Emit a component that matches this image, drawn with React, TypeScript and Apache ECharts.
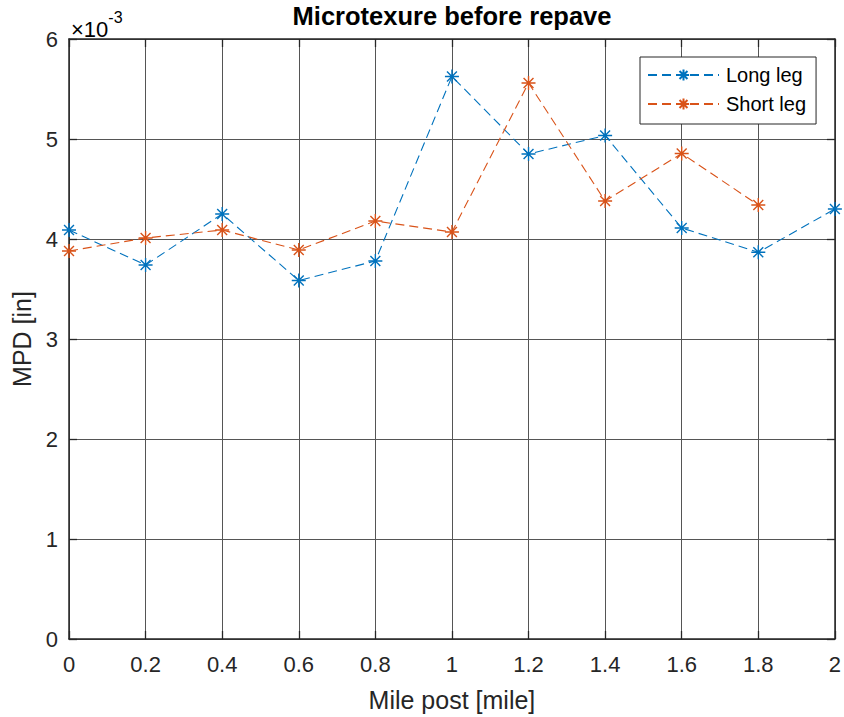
import React, { useEffect, useRef } from "react";
import * as echarts from "echarts";

// Mile post positions [mile]
const milePosts = [0, 0.2, 0.4, 0.6, 0.8, 1.0, 1.2, 1.4, 1.6, 1.8, 2.0];
// MPD values in units of 1e-3 in
const longLeg = [4.09, 3.74, 4.25, 3.585, 3.78, 5.625, 4.85, 5.035, 4.11, 3.867, 4.3];
const shortLeg = [3.88, 4.01, 4.09, 3.89, 4.18, 4.07, 5.56, 4.38, 4.855, 4.34];
const seriesNames = ["Long leg", "Short leg"];
const colors = ["#0072BD", "#D95319"];
const titleText = "Microtexure before repave";
const xName = "Mile post [mile]";
const yName = "MPD [in]";

const FONT = "'Liberation Sans', Arial, Helvetica, sans-serif";
const STAR = "path://M0,-10L0,10M-10,0L10,0M-7.07,-7.07L7.07,7.07M-7.07,7.07L7.07,-7.07";

export default function App() {
  const ref = useRef<HTMLDivElement>(null);
  useEffect(() => {
    if (!ref.current) return;
    const chart = echarts.init(ref.current, undefined, { renderer: "svg" });
    const mk = (name: string, vals: number[], color: string) => ({
      name,
      type: "line",
      data: vals.map((v, i) => [milePosts[i], v]),
      symbol: STAR,
      symbolSize: 14,
      showSymbol: true,
      color,
      lineStyle: { color, width: 1.1, type: [9, 5] },
      itemStyle: { color, borderColor: color, borderWidth: 1.4 },
      emphasis: { disabled: true },
      z: 5,
    });
    const frame = { show: true, onZero: false, lineStyle: { color: "#262626", width: 1.5 } };
    const tick = { show: true, inside: true, length: 8, lineStyle: { color: "#262626", width: 1.3 } };
    const split = { show: true, lineStyle: { color: "#555555", width: 1 } };
    chart.setOption({
      animation: false,
      backgroundColor: "#ffffff",
      title: {
        text: titleText,
        left: 452,
        textAlign: "center",
        top: 3,
        padding: 0,
        textStyle: { fontFamily: FONT, fontSize: 25.5, fontWeight: "bold", color: "#000" },
      },
      legend: {
        left: 640,
        top: 57,
        orient: "vertical",
        data: seriesNames,
        itemWidth: 71,
        itemHeight: 14,
        itemGap: 9,
        padding: [8, 10, 10, 7],
        backgroundColor: "#ffffff",
        borderColor: "#262626",
        borderWidth: 1,
        borderRadius: 0,
        textStyle: { fontFamily: FONT, fontSize: 20, color: "#000", padding: [0, 0, 0, 2] },
      },
      grid: { left: 69, top: 39, right: 8, bottom: 76, containLabel: false },
      xAxis: [
        {
          type: "value",
          min: 0,
          max: 2,
          interval: 0.2,
          axisLine: frame,
          axisTick: tick,
          splitLine: split,
          axisLabel: { fontFamily: FONT, fontSize: 22, color: "#262626", margin: 14 },
          name: xName,
          nameLocation: "middle",
          nameGap: 48,
          nameTextStyle: { fontFamily: FONT, fontSize: 25, color: "#262626" },
        },
        {
          type: "value",
          position: "top",
          min: 0,
          max: 2,
          interval: 0.2,
          axisLine: frame,
          axisTick: tick,
          splitLine: { show: false },
          axisLabel: { show: false },
        },
      ],
      yAxis: [
        {
          type: "value",
          min: 0,
          max: 6,
          interval: 1,
          axisLine: frame,
          axisTick: tick,
          splitLine: split,
          axisLabel: { fontFamily: FONT, fontSize: 22, color: "#262626", margin: 11 },
          name: yName,
          nameLocation: "middle",
          nameGap: 34,
          nameTextStyle: { fontFamily: FONT, fontSize: 25, color: "#262626" },
        },
        {
          type: "value",
          position: "right",
          min: 0,
          max: 6,
          interval: 1,
          axisLine: frame,
          axisTick: tick,
          splitLine: { show: false },
          axisLabel: { show: false },
        },
      ],
      graphic: [
        {
          type: "text",
          left: 71,
          top: 9,
          style: {
            text: "{a|×10}{b|-3}",
            rich: {
              a: { fontFamily: FONT, fontSize: 22, color: "#262626", verticalAlign: "bottom", padding: [9, 0, 0, 0] },
              b: { fontFamily: FONT, fontSize: 16, color: "#262626", verticalAlign: "top" },
            },
          },
        },
      ],
      series: [mk(seriesNames[0], longLeg, colors[0]), mk(seriesNames[1], shortLeg, colors[1])],
    });
    return () => chart.dispose();
  }, []);
  return (
    <div
      ref={ref}
      style={{ position: "absolute", left: 0, top: 0, width: 844, height: 717, background: "#fff" }}
    />
  );
}
